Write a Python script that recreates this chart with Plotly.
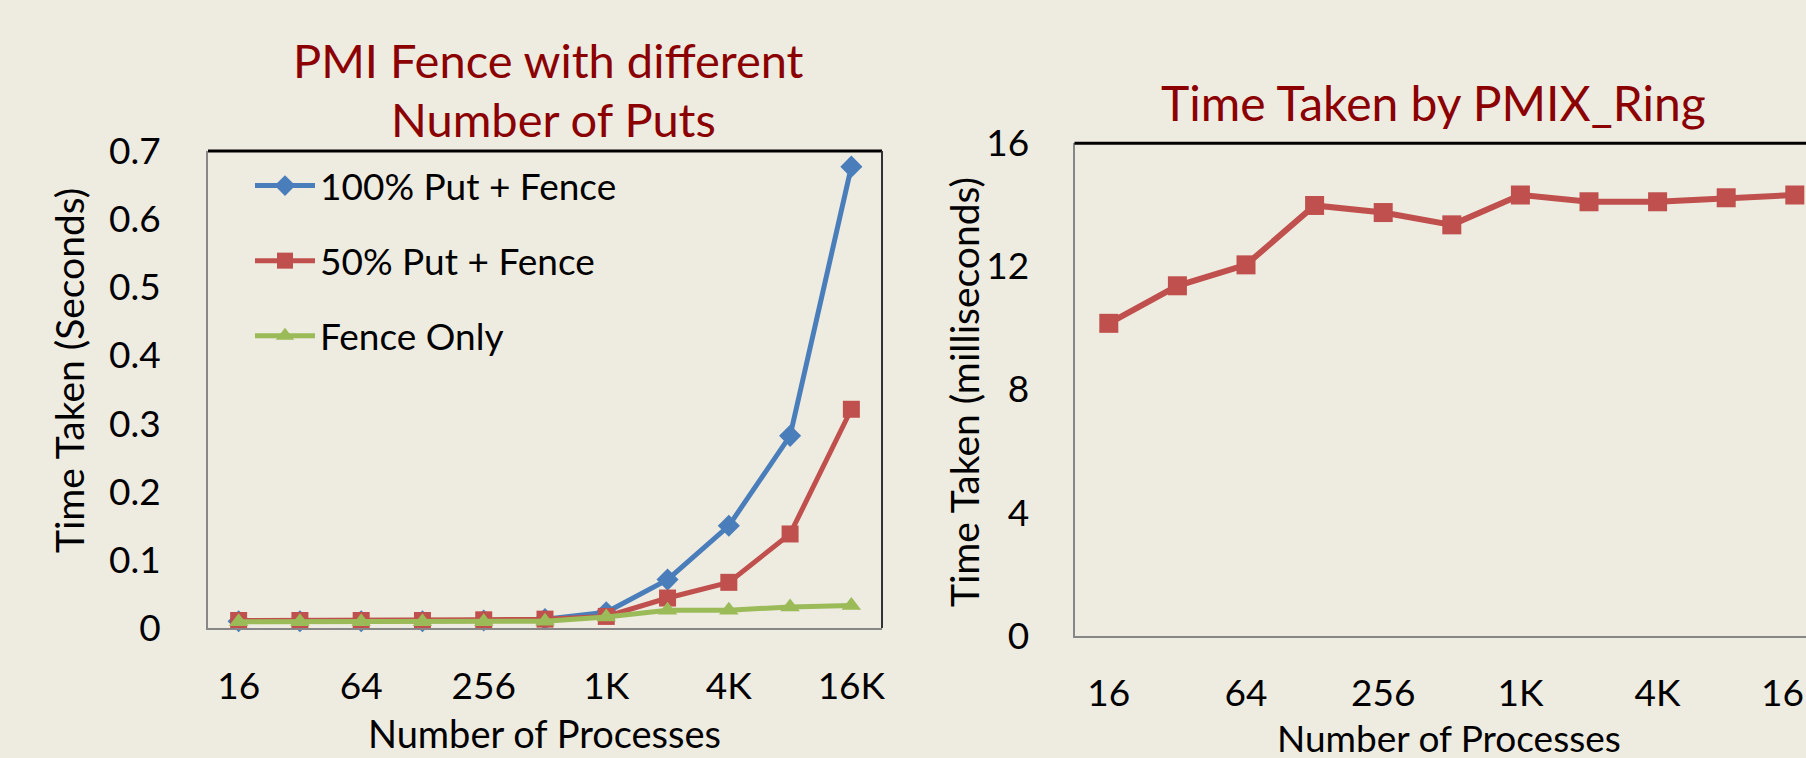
import plotly.graph_objects as go

# ---------------- data ----------------
procs = ["16", "32", "64", "128", "256", "512", "1K", "2K", "4K", "8K", "16K"]
tick_procs = ["16", "64", "256", "1K", "4K", "16K"]

put100_fence = [0.010, 0.010, 0.010, 0.010, 0.011, 0.013, 0.023, 0.071, 0.150, 0.282, 0.677]
put50_fence = [0.011, 0.011, 0.011, 0.011, 0.012, 0.013, 0.017, 0.044, 0.067, 0.138, 0.321]
fence_only = [0.009, 0.009, 0.009, 0.009, 0.009, 0.010, 0.016, 0.026, 0.026, 0.031, 0.033]

ring_ms = [10.15, 11.37, 12.05, 13.98, 13.75, 13.35, 14.32, 14.10, 14.10, 14.23, 14.32]

left_yticks = [0, 0.1, 0.2, 0.3, 0.4, 0.5, 0.6, 0.7]
left_yticktext = ["0", "0.1", "0.2", "0.3", "0.4", "0.5", "0.6", "0.7"]
right_yticks = [0, 4, 8, 12, 16]

# ---------------- style ----------------
W, H = 1806, 758
BG = "#EEEBE0"
FONT = "Gill Sans MT, Gill Sans, Lato, sans-serif"
TITLE_COLOR = "#8B0000"
BLUE = "#4A7EBB"
RED = "#C0504D"
GREEN = "#9BBB59"
AXIS_GRAY = "#878787"


def px(x):
    return x / W


def py(y):
    return 1 - y / H


fig = go.Figure()

fig.add_trace(go.Scatter(
    x=procs, y=put100_fence, name="100% Put + Fence", mode="lines+markers",
    line=dict(color=BLUE, width=5), marker=dict(symbol="diamond", size=17, color=BLUE),
    xaxis="x", yaxis="y", legendgroup="a", cliponaxis=False))
fig.add_trace(go.Scatter(
    x=procs, y=put50_fence, name="50% Put + Fence", mode="lines+markers",
    line=dict(color=RED, width=5), marker=dict(symbol="square", size=17, color=RED),
    xaxis="x", yaxis="y", legendgroup="b", cliponaxis=False))
fig.add_trace(go.Scatter(
    x=procs, y=fence_only, name="Fence Only", mode="lines+markers",
    line=dict(color=GREEN, width=5), marker=dict(symbol="triangle-up", size=17, color=GREEN),
    xaxis="x", yaxis="y", legendgroup="c", cliponaxis=False))

fig.add_trace(go.Scatter(
    x=procs, y=ring_ms, name="PMIX_Ring", mode="lines+markers",
    line=dict(color=RED, width=6), marker=dict(symbol="square", size=19, color=RED),
    xaxis="x2", yaxis="y2", showlegend=False, cliponaxis=False))

# plot areas (pixel geometry)
L_x0, L_x1, L_y0, L_y1 = 208, 882, 151, 628
R_x0, R_y0, R_y1 = 1074.5, 143.3, 635.7
R_step = 68.6
R_right_val = (W - R_x0) / R_step - 0.5

tickfont = dict(family=FONT, size=37, color="black")
common = dict(showline=True, linecolor=AXIS_GRAY, linewidth=2, showgrid=False,
              zeroline=False, ticks="", tickfont=tickfont, automargin=False)

fig.update_layout(
    width=W, height=H,
    margin=dict(l=0, r=0, t=0, b=0, autoexpand=False),
    paper_bgcolor=BG, plot_bgcolor=BG,
    font=dict(family=FONT, color="black"),
    xaxis=dict(domain=[px(L_x0), px(L_x1)], anchor="y", type="category",
               categoryorder="array", categoryarray=procs,
               range=[-0.5, 10.5], tickvals=tick_procs, ticktext=tick_procs,
               ticklabelstandoff=25, **common),
    yaxis=dict(domain=[py(L_y1), py(L_y0)], anchor="x", range=[0, 0.7],
               tickvals=left_yticks, ticktext=left_yticktext,
               ticklabelstandoff=38, **common),
    xaxis2=dict(domain=[px(R_x0), 1], anchor="y2", type="category",
                categoryorder="array", categoryarray=procs,
                range=[-0.5, R_right_val], tickvals=tick_procs, ticktext=tick_procs,
                ticklabelstandoff=24, **common),
    yaxis2=dict(domain=[py(R_y1), py(R_y0)], anchor="x2", range=[0, 16],
                tickvals=right_yticks, ticklabelstandoff=36, **common),
    legend=dict(x=px(250), y=py(155), xanchor="left", yanchor="top",
                bgcolor="rgba(0,0,0,0)", font=dict(family=FONT, size=37, color="black"),
                traceorder="grouped", tracegroupgap=24, itemwidth=60),
    showlegend=True,
)

# borders (top / right black lines)
fig.add_shape(type="line", xref="x domain", yref="y domain", x0=0, x1=1, y0=1, y1=1,
              line=dict(color="black", width=3))
fig.add_shape(type="line", xref="x domain", yref="y domain", x0=1, x1=1, y0=0, y1=1,
              line=dict(color="#333333", width=2))
fig.add_shape(type="line", xref="x2 domain", yref="y2 domain", x0=0, x1=1, y0=1, y1=1,
              line=dict(color="black", width=3))

# titles and axis titles
ann = [
    dict(text="PMI Fence with different", x=px(548), y=py(60), size=47, color=TITLE_COLOR, angle=0),
    dict(text="Number of Puts", x=px(553), y=py(119), size=47, color=TITLE_COLOR, angle=0),
    dict(text="Time Taken by PMIX_Ring", x=px(1433), y=py(102), size=48, color=TITLE_COLOR, angle=0),
    dict(text="Number of Processes", x=px(544), y=py(733), size=38, color="black", angle=0),
    dict(text="Number of Processes", x=px(1449), y=py(737), size=37, color="black", angle=0),
    dict(text="Time Taken (Seconds)", x=px(69), y=py(371), size=39, color="black", angle=-90),
    dict(text="Time Taken (milliseconds)", x=px(964), y=py(392), size=39, color="black", angle=-90),
]
for a in ann:
    fig.add_annotation(text=a["text"], x=a["x"], y=a["y"], xref="paper", yref="paper",
                       xanchor="center", yanchor="middle", showarrow=False,
                       textangle=a["angle"],
                       font=dict(family=FONT, size=a["size"], color=a["color"]))

fig.write_html("out.html", config={"displayModeBar": False},
               post_script="document.body.style.margin='0';document.body.style.overflow='hidden';")
